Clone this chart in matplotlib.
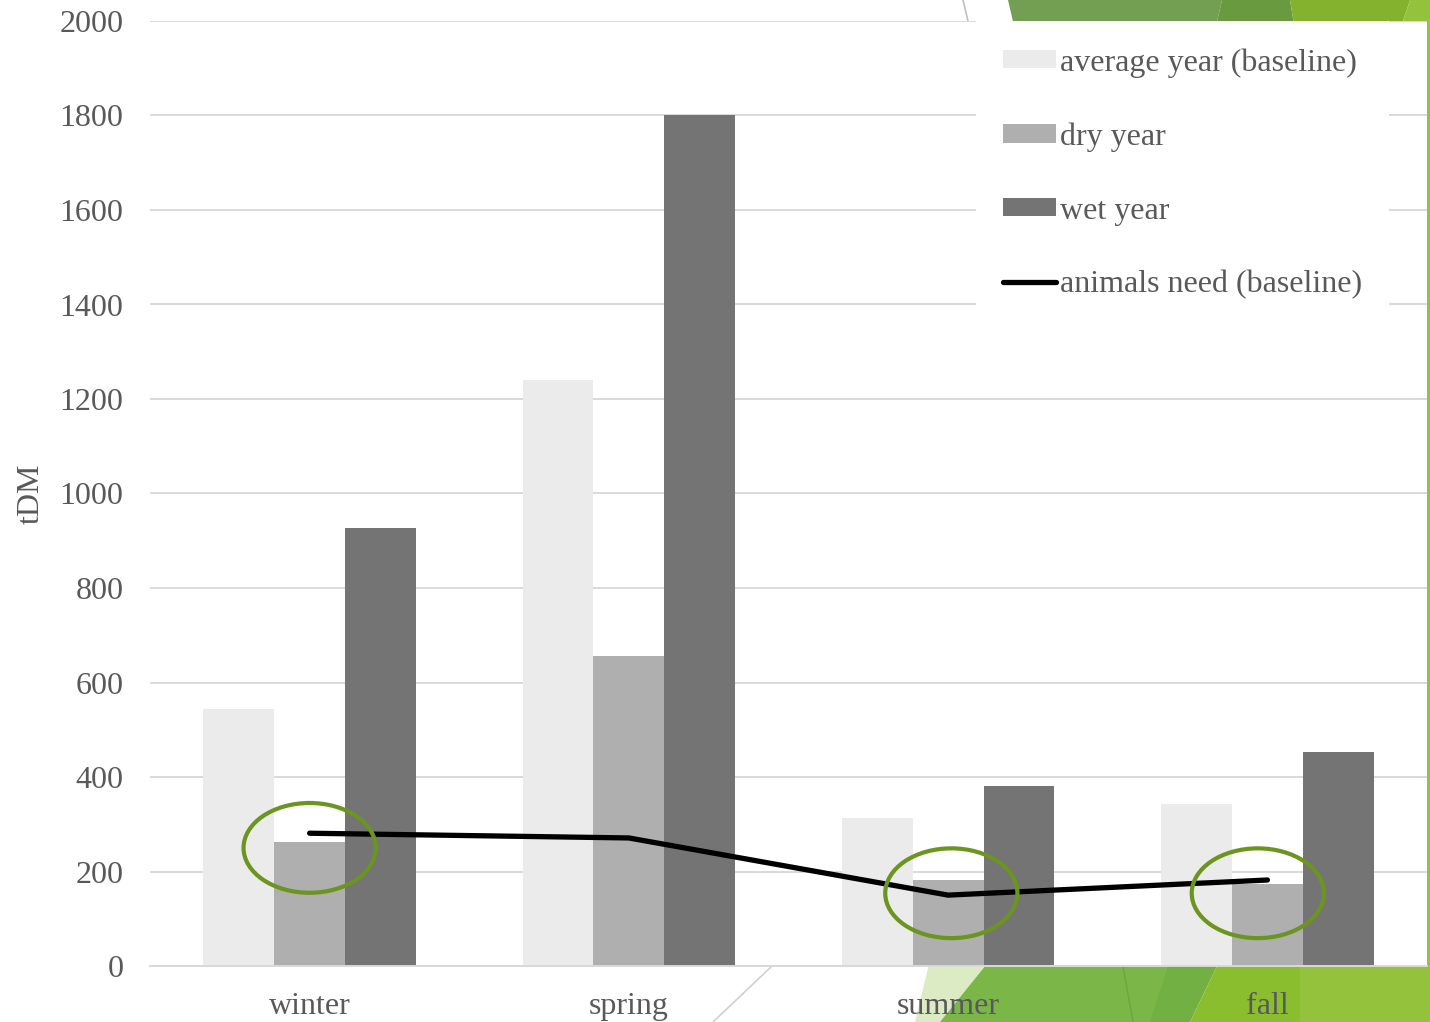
import numpy as np
import matplotlib.pyplot as plt
from matplotlib.patches import Polygon, Ellipse

# data
seasons = ['winter', 'spring', 'summer', 'fall']
average_year = [543, 1240, 313, 343]
dry_year = [262, 656, 182, 174]
wet_year = [927, 1800, 381, 453]
animals_need = [281, 271, 150, 182]

# green circles drawn over the dry-year bars (category index, centre value)
circle_cat = [0, 2.01, 2.97]
circle_val = [250, 154, 154]

plt.rcParams['font.family'] = ['Liberation Serif', 'DejaVu Serif']
text_color = '#595959'
grid_color = '#D9D9D9'

fig = plt.figure(figsize=(14.3, 10.22), dpi=100)

# slide background decoration (green facets of the template)
bg = fig.add_axes([0, 0, 1, 1])
bg.set_xlim(0, 1430)
bg.set_ylim(1022, 0)
bg.axis('off')
deco = [
    ([(1008, 0), (1222, 0), (1215, 30), (1015, 30)], '#729F52'),
    ([(1222, 0), (1290, 0), (1295, 30), (1215, 30)], '#6A9A3F'),
    ([(1290, 0), (1410, 0), (1400, 30), (1295, 30)], '#84B22F'),
    ([(1410, 0), (1430, 0), (1430, 30), (1400, 30)], '#95C23C'),
    ([(1424, 0), (1430, 0), (1430, 1022), (1424, 1022)], '#95C23C'),
    ([(930, 960), (990, 960), (940, 1022), (915, 1022)], '#DDEBC4'),
    ([(990, 960), (1170, 960), (1190, 1022), (940, 1022)], '#7AB648'),
    ([(1170, 960), (1220, 960), (1190, 1022), (1150, 1022)], '#72B043'),
    ([(1220, 960), (1300, 960), (1300, 1022), (1190, 1022)], '#8BBE2F'),
    ([(1300, 960), (1430, 960), (1430, 1022), (1300, 1022)], '#95C23C'),
]
for pts, col in deco:
    bg.add_patch(Polygon(pts, closed=True, facecolor=col, edgecolor='none'))
bg.plot([1123, 1133], [966, 1022], color='#6CA640', lw=1)
bg.plot([963, 968], [0, 21], color='#BFBFBF', lw=1.2)
bg.plot([772, 713], [966, 1022], color='#D0D0D0', lw=1.2)

ax = fig.add_axes([150 / 1430, 1 - 966 / 1022, 1277 / 1430, 945 / 1022])
ax.set_facecolor('white')

x = np.arange(len(seasons))
w = 0.222
b1 = ax.bar(x - w, average_year, w, color='#EBEBEB', label='average year (baseline)', zorder=2)
b2 = ax.bar(x, dry_year, w, color='#AFAFAF', label='dry year', zorder=2)
b3 = ax.bar(x + w, wet_year, w, color='#747474', label='wet year', zorder=2)
ln, = ax.plot(x, animals_need, color='black', lw=3.8, solid_capstyle='round',
              solid_joinstyle='round', label='animals need (baseline)', zorder=3)

for cx, cy in zip(circle_cat, circle_val):
    ax.add_patch(Ellipse((cx, cy), 0.414, 190, fill=False, edgecolor='#6B951F',
                         lw=3, zorder=4))

ax.set_xlim(-0.5, 3.5)
ax.set_ylim(0, 2000)
ax.set_yticks(range(0, 2001, 200))
ax.set_xticks(x)
ax.set_xticklabels(seasons)
ax.grid(axis='y', color=grid_color, lw=1.4, zorder=0)
ax.set_axisbelow(True)
for side in ['top', 'right', 'left']:
    ax.spines[side].set_visible(False)
ax.spines['bottom'].set_color(grid_color)
ax.spines['bottom'].set_linewidth(1.4)
ax.tick_params(axis='both', length=0, labelsize=23, colors=text_color)
ax.tick_params(axis='y', pad=19)
ax.tick_params(axis='x', pad=19)
ax.set_ylabel('tDM', fontsize=23, color=text_color, labelpad=10)

leg = ax.legend(handles=[b1, b2, b3, ln], loc='upper left',
                bbox_to_anchor=((976 - 150) / 1277, 1.0), fontsize=23,
                frameon=True, fancybox=False, borderpad=0.85, handlelength=1.65,
                handleheight=0.5, handletextpad=0.12, labelspacing=1.4,
                borderaxespad=0)
leg.get_frame().set_facecolor('white')
leg.get_frame().set_edgecolor('none')
leg.get_frame().set_alpha(1)
leg.set_zorder(5)
for t in leg.get_texts():
    t.set_color(text_color)

fig.savefig('out.png', dpi=100)
